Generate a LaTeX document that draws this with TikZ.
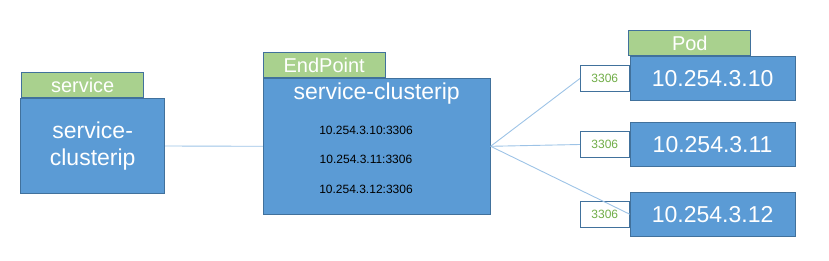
\documentclass[tikz,border=0pt]{standalone}
\usepackage{fontspec}
\setmainfont{Liberation Sans}
\usetikzlibrary{positioning}
\definecolor{boxblue}{HTML}{5B9BD5}
\definecolor{boxedge}{HTML}{41719C}
\definecolor{tagfill}{HTML}{A9D18E}
\definecolor{portgreen}{HTML}{70AD47}
\definecolor{linkblue}{HTML}{9DC3E6}
\begin{document}
\begin{tikzpicture}[
  x=1pt,y=-1pt,
  node distance=0pt,
  box/.style={draw=boxedge,fill=boxblue,line width=0.8pt,inner sep=0pt,
              text=white,font=\fontsize{23}{27}\selectfont,align=center},
  tag/.style={draw=boxedge,fill=tagfill,line width=0.8pt,inner sep=0pt,
              minimum width=122pt,minimum height=25pt,text=white,
              font=\fontsize{20}{24}\selectfont},
  port/.style={draw=boxedge,fill=white,line width=0.8pt,inner sep=0pt,
               minimum width=49pt,minimum height=26pt,text=portgreen,
               font=\fontsize{12}{14}\selectfont},
  addr/.style={font=\fontsize{12}{14}\selectfont,text=black,inner sep=0pt},
  link/.style={draw=linkblue,line width=0.9pt}
]
  \useasboundingbox (0,0) rectangle (829,261);

  % service
  \node[box,minimum width=144pt,minimum height=95pt](svc) at (92.7,146)
       {service-\\clusterip};
  \node[tag,anchor=south west](svctag) at ([xshift=1pt]svc.north west){service};

  % endpoint
  \node[box,minimum width=227pt,minimum height=136pt](ep) at (376.7,146.3){};
  \node[tag,anchor=south west](eptag) at (ep.north west){EndPoint};
  \node[box,draw=none,fill=none](epname) at (376.7,93.3){service-clusterip};
  \node[addr](ip1) at (366,130){10.254.3.10:3306};
  \node[addr](ip2) at (366,159.3){10.254.3.11:3306};
  \node[addr](ip3) at (366,189.3){10.254.3.12:3306};

  % pods
  \node[box,minimum width=165pt,minimum height=44pt](pod1) at (712.6,78.5){10.254.3.10};
  \node[box,minimum width=165pt,minimum height=44pt](pod2) at (712.6,144.5){10.254.3.11};
  \node[box,minimum width=165pt,minimum height=44pt](pod3) at (712.6,214.2){10.254.3.12};
  \node[tag,anchor=south west](podtag) at ([xshift=-1.3pt]pod1.north west){Pod};
  \node[port,left=of pod1](port1){3306};
  \node[port,left=of pod2](port2){3306};
  \node[port,left=of pod3](port3){3306};

  \draw[link](svc.east)--(ep.west);
  \draw[link](ep.east)--(port1.west);
  \draw[link](ep.east)--(port2.west);
  \draw[link](ep.east)--(pod3.west);
\end{tikzpicture}
\end{document}
